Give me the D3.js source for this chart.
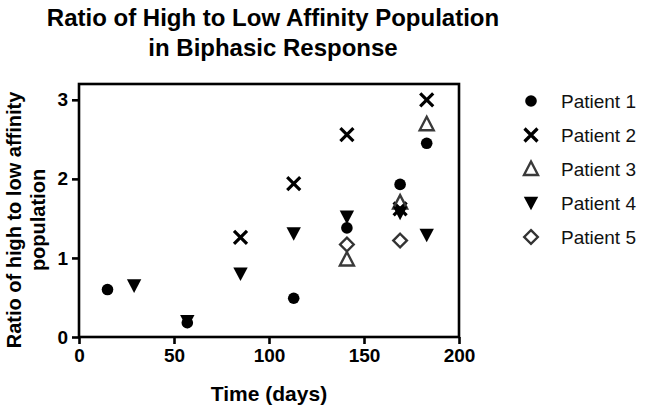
<!DOCTYPE html>
<html><head><meta charset="utf-8">
<script src="https://cdn.jsdelivr.net/npm/d3@7"></script>
<style>body{margin:0;background:#fff}svg{display:block;font-family:"Liberation Sans",Arial,sans-serif}</style>
</head><body><svg id="c" width="645" height="409"></svg>
<script>
const title = ["Ratio of High to Low Affinity Population", "in Biphasic Response"];
const xLabel = "Time (days)";
const yLabel = ["Ratio of high to low affinity", "population"];
const xTicks = [0, 50, 100, 150, 200];
const yTicks = [0, 1, 2, 3];
const seriesNames = ["Patient 1", "Patient 2", "Patient 3", "Patient 4", "Patient 5"];
const p1Days = [15, 57, 113, 141, 169, 183];
const p1Vals = [0.60, 0.18, 0.49, 1.38, 1.93, 2.45];
const p2Days = [85, 113, 141, 169, 183];
const p2Vals = [1.26, 1.94, 2.56, 1.62, 3.0];
const p3Days = [141, 169, 183];
const p3Vals = [0.98, 1.70, 2.69];
const p4Days = [29, 57, 85, 113, 141, 169, 183];
const p4Vals = [0.65, 0.20, 0.80, 1.31, 1.52, 1.57, 1.29];
const p5Days = [141, 169];
const p5Vals = [1.17, 1.22];

const series = [
  {name: seriesNames[0], days: p1Days, vals: p1Vals, shape: "circle"},
  {name: seriesNames[1], days: p2Days, vals: p2Vals, shape: "x"},
  {name: seriesNames[2], days: p3Days, vals: p3Vals, shape: "triUp"},
  {name: seriesNames[3], days: p4Days, vals: p4Vals, shape: "triDown"},
  {name: seriesNames[4], days: p5Days, vals: p5Vals, shape: "diamond"}
];

const svg = d3.select("#c");
const L = 79, R = 459, T = 84, B = 337;
const x = d3.scaleLinear().domain([0, 200]).range([L, R]);
const y = d3.scaleLinear().domain([0, 3.2]).range([B, T]);

function drawMarker(g, shape) {
  if (shape === "circle") {
    g.append("circle").attr("r", 5.8).attr("fill", "#000");
  } else if (shape === "x") {
    const s = 6.5;
    g.append("path").attr("d", `M${-s},${-s}L${s},${s}M${-s},${s}L${s},${-s}`)
      .attr("stroke", "#000").attr("stroke-width", 3.2).attr("fill", "none");
  } else if (shape === "triUp") {
    g.append("path").attr("d", "M0,-7.5L7,6L-7,6Z")
      .attr("stroke", "#3a3a3a").attr("stroke-width", 2.4).attr("fill", "none");
  } else if (shape === "triDown") {
    g.append("path").attr("d", "M-7.2,-6.3L7.2,-6.3L0,7.3Z").attr("fill", "#000");
  } else if (shape === "diamond") {
    g.append("path").attr("d", "M0,-6.8L6.8,0L0,6.8L-6.8,0Z")
      .attr("stroke", "#333").attr("stroke-width", 2.4).attr("fill", "none");
  }
}

// title
svg.append("g").selectAll("text").data(title).join("text")
  .attr("x", 273).attr("y", (d, i) => 26 + i * 30)
  .attr("text-anchor", "middle").attr("font-size", 24).attr("font-weight", "bold")
  .text(d => d);

// frame
svg.append("rect").attr("x", L).attr("y", T).attr("width", R - L).attr("height", B - T)
  .attr("fill", "none").attr("stroke", "#000").attr("stroke-width", 2.6);

// axes
const xAxis = svg.append("g").attr("transform", `translate(0,${B})`)
  .call(d3.axisBottom(x).tickValues(xTicks).tickSize(7).tickPadding(5).tickFormat(d3.format("d")));
const yAxis = svg.append("g").attr("transform", `translate(${L},0)`)
  .call(d3.axisLeft(y).tickValues(yTicks).tickSize(7).tickPadding(4).tickFormat(d3.format("d")));
[xAxis, yAxis].forEach(a => {
  a.select(".domain").remove();
  a.selectAll("line").attr("stroke", "#000").attr("stroke-width", 2.6);
  a.selectAll("text").attr("font-size", 19).attr("font-weight", "bold").attr("fill", "#000")
    .attr("font-family", "Liberation Sans, Arial, sans-serif");
});

// axis titles
svg.append("text").attr("x", 269).attr("y", 401).attr("text-anchor", "middle")
  .attr("font-size", 21).attr("font-weight", "bold").text(xLabel);
svg.append("g").attr("transform", "translate(0,220) rotate(-90)")
  .selectAll("text").data(yLabel).join("text")
  .attr("x", 0).attr("y", (d, i) => 21 + i * 24).attr("text-anchor", "middle")
  .attr("font-size", 20).attr("font-weight", "bold").text(d => d);

// points
series.forEach(s => {
  svg.append("g").selectAll("g").data(s.days.map((d, i) => [d, s.vals[i]])).join("g")
    .attr("transform", d => `translate(${x(d[0])},${y(d[1])})`)
    .each(function () { drawMarker(d3.select(this), s.shape); });
});

// legend
const legendRows = [101, 135, 169, 203, 237];
const lg = svg.append("g").selectAll("g").data(series).join("g")
  .attr("transform", (d, i) => `translate(531,${legendRows[i]})`);
lg.each(function (d) { drawMarker(d3.select(this), d.shape); });
lg.append("text").attr("x", 30).attr("y", 7).attr("font-size", 19).attr("fill", "#111")
  .text(d => d.name);
</script></body></html>
